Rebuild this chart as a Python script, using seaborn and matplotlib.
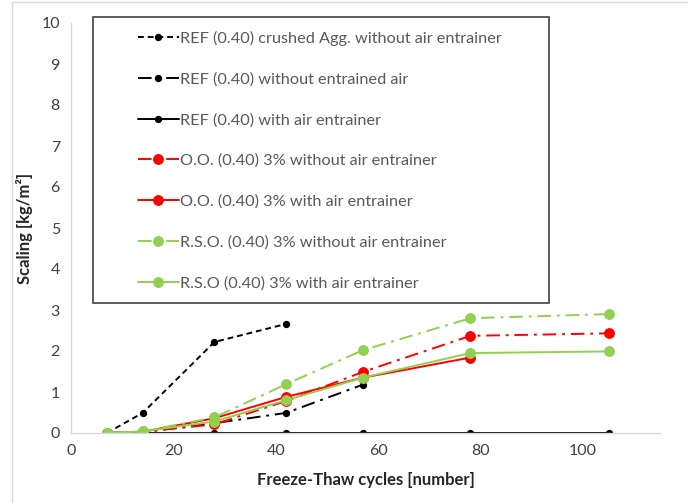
import matplotlib
matplotlib.use("Agg")
import matplotlib.pyplot as plt
import seaborn as sns
import pandas as pd
from matplotlib.patches import Rectangle
from matplotlib.lines import Line2D

sns.set_style("white")
plt.rcParams['font.family'] = ['Lato', 'DejaVu Sans']

cycles = [7, 14, 28, 42, 57, 78, 105]

labels = [
    "REF (0.40) crushed Agg. without air entrainer",
    "REF (0.40) without entrained air",
    "REF (0.40) with air entrainer",
    "O.O. (0.40) 3% without air entrainer",
    "O.O. (0.40) 3% with air entrainer",
    "R.S.O. (0.40) 3% without air entrainer",
    "R.S.O (0.40) 3% with air entrainer",
]

ref_crushed = [0.0, 0.49, 2.22, 2.66]
ref_no_air = [0.0, 0.02, 0.24, 0.49, 1.18]
ref_air = [0.0, 0.0, 0.0, 0.0, 0.0, 0.0, 0.0]
oo_no_air = [0.0, 0.03, 0.21, 0.78, 1.49, 2.37, 2.43]
oo_air = [0.0, 0.03, 0.36, 0.88, 1.35, 1.84]
rso_no_air = [0.0, 0.04, 0.38, 1.19, 2.02, 2.80, 2.90]
rso_air = [0.0, 0.04, 0.28, 0.80, 1.35, 1.95, 1.99]

series = [ref_crushed, ref_no_air, ref_air, oo_no_air, oo_air, rso_no_air, rso_air]
colors = ["black", "black", "black", "#FF0000", "#FF0000", "#92D050", "#92D050"]
styles = [(0, (3, 2)), (0, (7, 3, 1.5, 3)), "-", (0, (7, 3, 1.5, 3)), "-", (0, (7, 3, 1.5, 3)), "-"]
msizes = [4.5, 4.5, 4.5, 7, 7, 7, 7]

fig = plt.figure(figsize=(6.88, 5.03), dpi=100)
ax = fig.add_axes([71/688, (503-433)/503, 589/688, 410/503])

for lab, vals, c, ls, ms in zip(labels, series, colors, styles, msizes):
    df = pd.DataFrame({"x": cycles[:len(vals)], "y": vals})
    sns.lineplot(data=df, x="x", y="y", ax=ax, color=c, linestyle=ls, linewidth=1.4,
                 marker="o", markersize=ms, markeredgecolor=c, markerfacecolor=c,
                 label=lab)

ax.set_xlim(0, 115)
ax.set_ylim(0, 10)
ax.set_xticks([0, 20, 40, 60, 80, 100])
ax.set_yticks(range(0, 11))
ax.tick_params(axis="both", length=0, labelsize=11.5, labelcolor="#404040", pad=8)
for s in ["top", "right"]:
    ax.spines[s].set_visible(False)
ax.spines["left"].set_color("#D9D9D9")
ax.spines["bottom"].set_color("#D9D9D9")
ax.spines["left"].set_linewidth(1)
ax.spines["bottom"].set_linewidth(1)
ax.grid(False)

ax.set_xlabel("Freeze-Thaw cycles [number]", fontsize=12, fontweight="bold", color="#262626", labelpad=10)
ax.set_ylabel("Scaling [kg/m²]", fontsize=12, fontweight="bold", color="#262626", labelpad=6)

# legend box
x0 = (93 - 71) / 589
y0 = (433 - 303) / 410
w = (549 - 93) / 589
h = (303 - 17) / 410
ax.add_patch(Rectangle((x0, y0), w, h, transform=ax.transAxes, fill=False,
                       edgecolor="#404040", linewidth=1.2, clip_on=False, zorder=5))

leg = ax.legend(loc="upper left", bbox_to_anchor=((138 - 71) / 589, (433 - 31) / 410),
                frameon=False, fontsize=11.7, handlelength=2.5, handletextpad=0.1,
                labelspacing=1.62, borderaxespad=0, borderpad=0)
for t in leg.get_texts():
    t.set_color("#595959")

# chart area border
fig.add_artist(Line2D([12/688, 12/688], [0, 1 - 2/503], color="#D9D9D9", lw=1, transform=fig.transFigure))
fig.add_artist(Line2D([12/688, 1], [1 - 2/503, 1 - 2/503], color="#D9D9D9", lw=1, transform=fig.transFigure))

fig.savefig("out.png", dpi=100)
